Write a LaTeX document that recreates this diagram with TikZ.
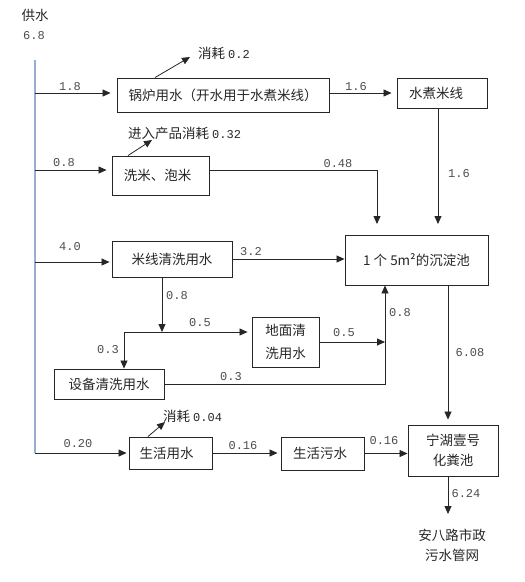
\documentclass[tikz,border=0pt]{standalone}
\usepackage{fontspec}
\newfontfamily\cjk{Noto Sans CJK SC}
\newfontfamily\numfont{Liberation Mono}
\usetikzlibrary{arrows.meta}
\newcommand\numtxt[1]{{\numfont\fontsize{12}{14}\selectfont #1}}
\definecolor{supplyblue}{RGB}{150,175,210}
\begin{document}
\begin{tikzpicture}[x=1pt,y=-1pt,
  box/.style={draw=black!85,line width=0.9pt,inner sep=0pt,font=\cjk\fontsize{13.5}{20}\selectfont,text=black!85,align=center},
  lab/.style={font=\numfont\fontsize{12}{14}\selectfont,text=black!70,inner sep=0pt},
  ctext/.style={font=\cjk\fontsize{13.5}{20}\selectfont,text=black!85,inner sep=0pt,align=center},
  flow/.style={draw=black!85,line width=0.8pt,-{Triangle[length=8pt,width=7pt]}},
  plain/.style={draw=black!85,line width=0.8pt},
]
\useasboundingbox (0,0) rectangle (525,582);

% supply
\node[ctext] (supply) at (35,15) {供水};
\node[lab] (total) at (34,36) {6.8};
\coordinate (stop) at (35,60);
\coordinate (sbot) at (35,453);
\draw[supplyblue,line width=1.5pt] (stop) -- (sbot);

% boxes
\node[box,minimum width=212pt,minimum height=34pt] (boiler) at (223,95) {锅炉用水（开水用于水煮米线）};
\node[box,minimum width=90pt,minimum height=30pt] (boil) at (442,93) {水煮米线\hspace*{12pt}};
\node[box,minimum width=97pt,minimum height=39pt] (wash) at (160.5,175.5) {洗米、泡米\hspace*{6pt}};
\node[box,minimum width=120pt,minimum height=36pt] (rinse) at (172,259) {米线清洗用水};
\node[box,minimum width=143pt,minimum height=50pt] (pool) at (416.5,260) {1 个 5m²的沉淀池};
\node[box,minimum width=67pt,minimum height=50pt,font=\cjk\fontsize{13.5}{23}\selectfont] (floor) at (285.5,342) {地面清\\洗用水};
\node[box,minimum width=110pt,minimum height=30pt] (equip) at (109,384) {设备清洗用水};
\node[box,minimum width=83pt,minimum height=32pt] (living) at (170.5,453) {生活用水\hspace*{8pt}};
\node[box,minimum width=83pt,minimum height=33pt] (sewage) at (322.5,453.5) {生活污水\hspace*{5pt}};
\node[box,minimum width=90pt,minimum height=51pt] (septic) at (453,450.5) {宁湖壹号\\化粪池};
\node[ctext] (outlet) at (452,545) {安八路市政\\污水管网};

% consumption texts
\node[ctext,anchor=west] (loss1) at (198,53) {消耗 \numtxt{0.2}};
\node[ctext,anchor=west] (loss2) at (128,133) {进入产品消耗 \numtxt{0.32}};
\node[ctext,anchor=west] (loss3) at (163,416) {消耗 \numtxt{0.04}};
\coordinate (t1) at (190,57);
\coordinate (t2) at (152,140);
\coordinate (t3) at (165,422);
\draw[flow] (boiler.north -| 155,0) -- (t1);
\draw[flow] (wash.north -| 128,0) -- (t2);
\draw[flow] (living.north -| 148,0) -- (t3);

% supply branches
\coordinate (s1) at (35,93);
\coordinate (s2) at (35,170);
\coordinate (s3) at (35,262);
\draw[flow,shorten >=6pt] (s1) -- (s1 -| boiler.west);
\draw[flow,shorten >=5pt] (s2) -- (s2 -| wash.west);
\draw[flow,shorten >=2pt] (s3) -- (s3 -| rinse.west);
\draw[flow,shorten >=2pt] (sbot) -- (sbot -| living.west);
\node[lab] (l18) at (70,87) {1.8};
\node[lab] (l08a) at (64,163) {0.8};
\node[lab] (l40) at (70,247) {4.0};
\node[lab] (l020) at (78,444) {0.20};

% top row
\draw[flow,shorten >=5pt] (boiler.east |- s1) -- (boil.west |- s1);
\node[lab] (l16a) at (356,87) {1.6};
\coordinate (j1) at (438,224);
\draw[flow] (boil.south -| j1) -- (j1);
\node[lab] (l16b) at (459,174) {1.6};

% wash to pool
\coordinate (j2) at (377,224);
\draw[flow] (s2 -| wash.east) -| (j2);
\node[lab] (l048) at (338,164) {0.48};

% rinse
\draw[flow] (rinse.east) -- (rinse.east -| pool.west);
\node[lab] (l32) at (251,252) {3.2};
\coordinate (k1) at (162,332);
\coordinate (k2) at (124,332);
\draw[flow] (rinse.south -| k1) -- (k1);
\node[lab] (l08b) at (177,296) {0.8};
\draw[flow,shorten >=4pt] (k2) -- (k2 -| floor.west);
\node[lab] (l05a) at (200,323) {0.5};
\draw[flow] (k2) -- (k2 |- equip.north);
\node[lab] (l03a) at (108,350) {0.3};

% floor / equip to pool
\coordinate (m1) at (385,386);
\draw[flow] (floor.east) -- (floor.east -| m1);
\node[lab] (l05b) at (344,333) {0.5};
\draw[flow] (equip.east) -- (equip.east -| m1) -- (pool.south -| m1);
\node[lab] (l03b) at (231,377) {0.3};
\node[lab] (l08c) at (400,313) {0.8};

% pool to septic
\draw[flow,shorten >=5pt] (pool.south -| 448,0) -- (septic.north -| 448,0);
\node[lab] (l608) at (470,353) {6.08};

% bottom row
\draw[flow,shorten >=3pt] (living.east) -- (living.east -| sewage.west);
\node[lab] (l016a) at (243,446) {0.16};
\draw[flow] (sewage.east) -- (sewage.east -| septic.west);
\node[lab] (l016b) at (384,441) {0.16};
\coordinate (o1) at (448,514);
\draw[flow] (septic.south -| o1) -- (o1);
\node[lab] (l624) at (466,494) {6.24};
\end{tikzpicture}
\end{document}
